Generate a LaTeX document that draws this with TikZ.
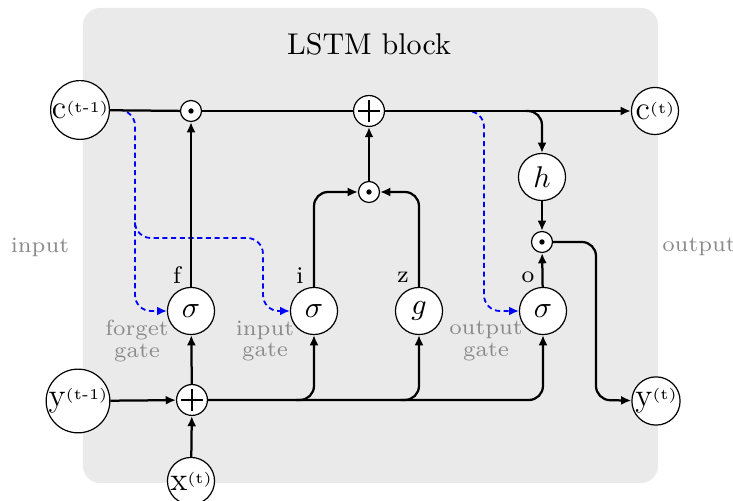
\documentclass[tikz,border=0pt]{standalone}
\usetikzlibrary{arrows.meta}
\definecolor{bgc}{RGB}{234,234,234}
\definecolor{lblc}{RGB}{138,138,138}
\newcommand{\mysup}[1]{\raisebox{2.3pt}{\fontsize{5}{6}\selectfont(#1)}}
\begin{document}
\begin{tikzpicture}[x=0.33333pt,y=-0.33333pt,
 big/.style={circle,draw,fill=white,line width=0.4pt,minimum size=15.7pt,inner sep=0pt,font=\fontsize{10}{12}\selectfont},
 vnode/.style={big,font=\fontsize{11}{13}\selectfont},
 mult/.style={circle,draw,fill=white,line width=0.4pt,minimum size=7pt,inner sep=0pt,
   path picture={\fill[black] (path picture bounding box.center) circle (0.9pt);}},
 addn/.style={circle,draw,fill=white,line width=0.4pt,minimum size=10.3pt,inner sep=0pt,
   path picture={\draw[line width=0.4pt] ([xshift=-3.7pt]path picture bounding box.center) -- ([xshift=3.7pt]path picture bounding box.center)
     ([yshift=-3.7pt]path picture bounding box.center) -- ([yshift=3.7pt]path picture bounding box.center);}},
 conn/.style={line width=0.75pt,-{Latex[length=3.4pt,width=3pt]}},
 plainl/.style={line width=0.75pt},
 gatel/.style={blue,line width=0.6pt,dash pattern=on 1.7pt off 1.2pt,-{Latex[length=3.2pt,width=2.9pt]}},
 lbl/.style={text=lblc,font=\fontsize{7.3}{7.3}\selectfont,align=center},
 gname/.style={font=\fontsize{8}{9}\selectfont},
 rc/.style={rounded corners=4.7pt}
]
\useasboundingbox (0,0) rectangle (733,501);
\fill[bgc,rounded corners=5.7pt] (83,8) rectangle (658,483);
\node[font=\fontsize{10}{12}\selectfont,anchor=base] (title) at (369,55) {LSTM block};

% nodes
\node[vnode] (cprev) at (80,110) {c\mysup{t-1}};
\node[mult] (m1) at (191,111) {};
\node[addn] (p1) at (369,111) {};
\node[vnode] (ct) at (655,111) {c\mysup{t}};
\node[big] (h) at (542,177) {$h$};
\node[mult] (m2) at (369,192) {};
\node[mult] (m3) at (542,242) {};
\node[big] (sf) at (191,311) {$\sigma$};
\node[big] (si) at (314,311) {$\sigma$};
\node[big] (g) at (419,311) {$g$};
\node[big] (so) at (543,311) {$\sigma$};
\node[vnode] (yprev) at (78,401) {y\mysup{t-1}};
\node[addn] (p2) at (192,400) {};
\node[vnode] (yt) at (656,401) {y\mysup{t}};
\node[vnode] (xt) at (191,481) {x\mysup{t}};

% labels
\node[lbl] (linput) at (40,247) {input};
\node[lbl] (loutput) at (699,247) {output};
\node[lbl] (lfg) at (137,341) {forget\\gate};
\node[lbl] (lig) at (265,341) {input\\gate};
\node[lbl] (log) at (486,341) {output\\gate};
\node[gname] (lf) at (177,275) {f};
\node[gname] (li) at (300,276) {i};
\node[gname] (lz) at (403,277) {z};
\node[gname] (lo) at (528,277) {o};

% helper coordinates
\coordinate (b1) at (135,311);
\coordinate (b2s) at (135,215);
\coordinate (b2c) at (263,238);
\coordinate (b2e) at (263,311);
\coordinate (b3s) at (455,111);
\coordinate (b3e) at (484,311);
\coordinate (hb) at (526,111);
\coordinate (yc) at (596,400);
\coordinate (bi) at (296,400);
\coordinate (bg) at (401,400);

% peephole (blue dashed)
\draw[gatel,rounded corners=5.3pt] (cprev) -| (b1) -- (sf);
\draw[gatel,rounded corners=5.3pt] (b2s) |- (b2c) -- (b2e) -- (si);
\draw[gatel,rounded corners=5.3pt] (b3s) -| (b3e) -- (so);

% cell state line
\draw[plainl] (cprev) -- (m1);
\draw[plainl] (m1) -- (p1);
\draw[conn] (p1) -- (ct);
\draw[conn,rc] (hb) -| (h);
\draw[conn] (h) -- (m3);
\draw[conn,rc] (m3) -| (yc) -- (yt);

% gates
\draw[conn] (sf) -- (m1);
\draw[conn] (m2) -- (p1);
\draw[conn,rc] (si) |- (m2);
\draw[conn,rc] (g) |- (m2);
\draw[conn] (so) -- (m3);

% inputs
\draw[conn] (yprev) -- (p2);
\draw[conn] (xt) -- (p2);
\draw[conn] (p2) -- (sf);
\draw[conn,rc] (p2) -| (so);
\draw[conn,rc] (bi) -| (si);
\draw[conn,rc] (bg) -| (g);
\end{tikzpicture}
\end{document}
